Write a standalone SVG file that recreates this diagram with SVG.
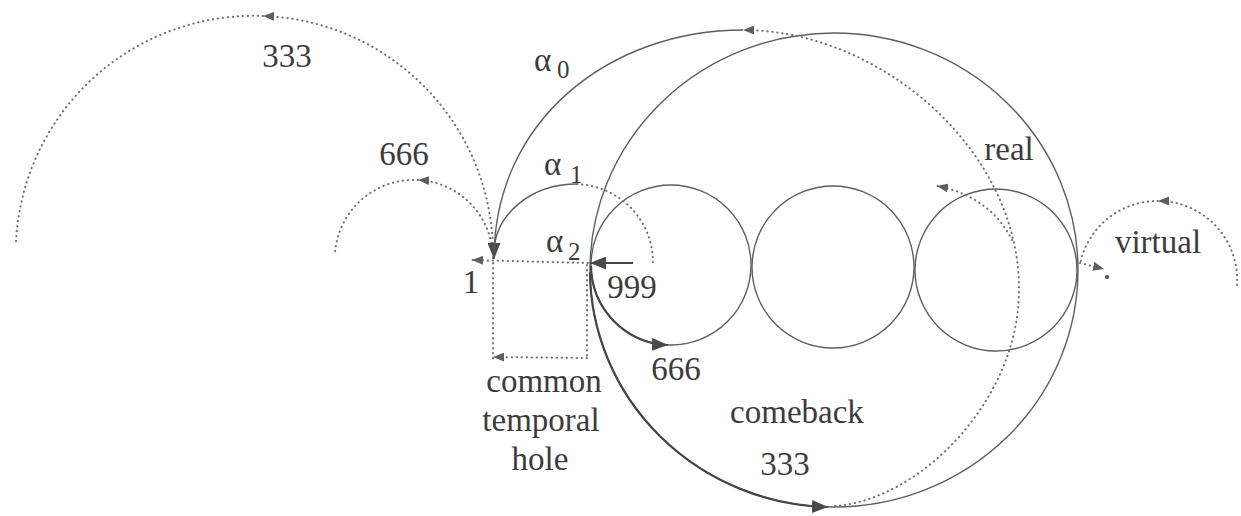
<svg xmlns="http://www.w3.org/2000/svg" width="1241" height="516" viewBox="0 0 1241 516">
<style>
.bg{fill:#ffffff}
.thin{fill:none;stroke:#5e5e5e;stroke-width:1.4}
.thick{fill:none;stroke:#464646;stroke-width:2.2}
.dot{fill:none;stroke:#707070;stroke-width:2;stroke-dasharray:0.4 4.6;stroke-linecap:round}
.lbl{font-size:33px;fill:#3c3c3c}
.sub{font-size:25px;fill:#3c3c3c}
</style>
<defs>
<marker id="ahS" markerUnits="userSpaceOnUse" markerWidth="17" markerHeight="13" refX="16" refY="6.5" orient="auto">
<path d="M0,0 L16,6.5 L0,13 z" fill="#4a4a4a"/>
</marker>
<marker id="ahD" markerUnits="userSpaceOnUse" markerWidth="11" markerHeight="9" refX="11" refY="4.5" orient="auto">
<path d="M0,0 L11,4.5 L0,9 z" fill="#5e5e5e"/>
</marker>
</defs>
<rect class="bg" x="0" y="0" width="1241" height="516"/>

<g id="big-loop">
<ellipse class="thin" cx="834" cy="270" rx="244" ry="237"/>
</g>
<g id="circle-1"><circle class="thin" cx="671" cy="265" r="80"/></g>
<g id="circle-2"><circle class="thin" cx="833" cy="267" r="81"/></g>
<g id="circle-3"><circle class="thin" cx="996" cy="270" r="81"/></g>

<g id="connectors">
<path class="dot" d="M493,258 A238,238 0 0 0 263,16" marker-end="url(#ahD)"/>
<path class="dot" d="M263,16 A238,238 0 0 0 16,242"/>
<path class="dot" d="M493,258 A79,79 0 0 0 418,180" marker-end="url(#ahD)"/>
<path class="dot" d="M418,180 A79,79 0 0 0 335,253"/>
<path class="thin" d="M743,30 C610,30 494,120 494,259" marker-end="url(#ahS)"/>
<path class="thin" d="M577,184 C530,184 495,215 494,252"/>
<path class="dot" d="M577,184 C620,186 653,220 653,263"/>
<path class="dot" d="M835,506 C920,500 1019,400 1019,290 C1020,150 880,30 743,30" marker-end="url(#ahD)"/>
<path class="dot" d="M1012,240 C1000,215 975,193 937,186" marker-end="url(#ahD)"/>
<path class="dot" d="M1237,285 A79,79 0 0 0 1158,201" marker-end="url(#ahD)"/>
<path class="dot" d="M1158,201 A79,79 0 0 0 1080,264"/>
<path class="dot" d="M1080,263 L1104,269" marker-end="url(#ahD)"/>
<circle cx="1107" cy="277" r="2" fill="#4a4a4a"/>
<path class="dot" d="M588,263 L472,260" marker-end="url(#ahD)"/>
<path class="dot" d="M493,263 L493,359"/>
<path class="dot" d="M587,265 L587,359"/>
<path class="dot" d="M587,358 L493,357" marker-end="url(#ahD)"/>
<path class="thick" d="M633,263 L590,263" marker-end="url(#ahS)"/>
<path class="thick" d="M591,266 A80,80 0 0 0 668,345" marker-end="url(#ahS)"/>
<path class="thick" d="M590,272 A244,237 0 0 0 828,507" marker-end="url(#ahS)"/>
</g>

<g id="labels" font-family="'Times New Roman', Times, 'Liberation Serif', Tinos, 'Noto Serif', 'DejaVu Serif', serif">
<text class="lbl" x="287" y="67" text-anchor="middle">333</text>
<text class="lbl" x="404" y="165" text-anchor="middle">666</text>
<g id="alpha0"><text class="lbl" x="534" y="71">α</text><text class="sub" x="557" y="78">0</text></g>
<g id="alpha1"><text class="lbl" x="544" y="175">α</text><text class="sub" x="570" y="183">1</text></g>
<g id="alpha2"><text class="lbl" x="546" y="252">α</text><text class="sub" x="568" y="260">2</text></g>
<text class="lbl" x="471" y="293" text-anchor="middle">1</text>
<text class="lbl" x="632" y="298" text-anchor="middle">999</text>
<text class="lbl" x="676" y="380" text-anchor="middle">666</text>
<text class="lbl" x="797" y="423" text-anchor="middle">comeback</text>
<text class="lbl" x="785" y="475" text-anchor="middle">333</text>
<text class="lbl" x="544" y="392" text-anchor="middle">common</text>
<text class="lbl" x="541" y="431" text-anchor="middle">temporal</text>
<text class="lbl" x="540" y="470" text-anchor="middle">hole</text>
<text class="lbl" x="1009" y="160" text-anchor="middle">real</text>
<text class="lbl" x="1158" y="253" text-anchor="middle">virtual</text>
</g>
</svg>
